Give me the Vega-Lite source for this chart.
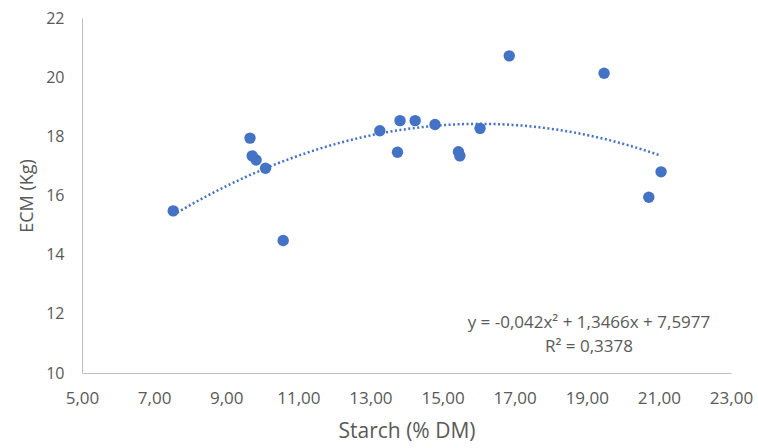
{
  "$schema": "https://vega.github.io/schema/vega-lite/v6.json",
  "width": 649,
  "height": 355,
  "autosize": {"type": "none"},
  "padding": {"left": 82, "top": 18, "right": 27, "bottom": 75},
  "background": "white",
  "config": {
    "view": {"stroke": null},
    "font": "Open Sans",
    "axis": {
      "grid": false,
      "ticks": false,
      "domainColor": "#BFBFBF",
      "domainWidth": 1,
      "labelColor": "#595959",
      "labelFontSize": 16,
      "labelFont": "Open Sans",
      "labelFlush": false,
      "titleColor": "#595959",
      "titleFontWeight": "normal",
      "titleFont": "Open Sans"
    }
  },
  "data": {
    "values": [
      {"starch": 7.53, "ecm": 15.48},
      {"starch": 9.66, "ecm": 17.94},
      {"starch": 9.72, "ecm": 17.34},
      {"starch": 9.83, "ecm": 17.2},
      {"starch": 10.09, "ecm": 16.92},
      {"starch": 10.58, "ecm": 14.48},
      {"starch": 13.26, "ecm": 18.19},
      {"starch": 13.75, "ecm": 17.46},
      {"starch": 13.82, "ecm": 18.53},
      {"starch": 14.24, "ecm": 18.53},
      {"starch": 14.79, "ecm": 18.4},
      {"starch": 15.44, "ecm": 17.48},
      {"starch": 15.48, "ecm": 17.34},
      {"starch": 16.04, "ecm": 18.27},
      {"starch": 16.85, "ecm": 20.72},
      {"starch": 19.48, "ecm": 20.13},
      {"starch": 20.72, "ecm": 15.94},
      {"starch": 21.06, "ecm": 16.8}
    ]
  },
  "layer": [
    {
      "transform": [
        {"regression": "ecm", "on": "starch", "method": "poly", "order": 2}
      ],
      "mark": {"type": "line", "color": "#4472C4", "strokeWidth": 2.5, "strokeDash": [2, 2.5], "clip": true},
      "encoding": {
        "x": {"field": "starch", "type": "quantitative"},
        "y": {"field": "ecm", "type": "quantitative"}
      }
    },
    {
      "mark": {"type": "circle", "color": "#4472C4", "opacity": 1, "size": 130},
      "encoding": {
        "x": {
          "field": "starch",
          "type": "quantitative",
          "scale": {"domain": [5, 23], "nice": false, "zero": false},
          "axis": {
            "title": "Starch (% DM)",
            "titleFontSize": 21,
            "labelFontSize": 17,
            "values": [5, 7, 9, 11, 13, 15, 17, 19, 21, 23],
            "labelExpr": "replace(format(datum.value, '.2f'), '.', ',')",
            "labelPadding": 17,
            "titlePadding": 14
          }
        },
        "y": {
          "field": "ecm",
          "type": "quantitative",
          "scale": {"domain": [10, 22], "nice": false, "zero": false},
          "axis": {
            "title": "ECM (Kg)",
            "titleFontSize": 18,
            "values": [10, 12, 14, 16, 18, 20, 22],
            "labelPadding": 18,
            "titlePadding": 9
          }
        }
      }
    },
    {
      "data": {"values": [{"label": "trend"}]},
      "mark": {
        "type": "text",
        "text": ["y = -0,042x² + 1,3466x + 7,5977", "R² = 0,3378"],
        "align": "center",
        "baseline": "middle",
        "fontSize": 17,
        "color": "#595959",
        "lineHeight": 24,
        "font": "Open Sans"
      },
      "encoding": {
        "x": {"datum": 19.06},
        "y": {"datum": 11.7}
      }
    }
  ]
}
